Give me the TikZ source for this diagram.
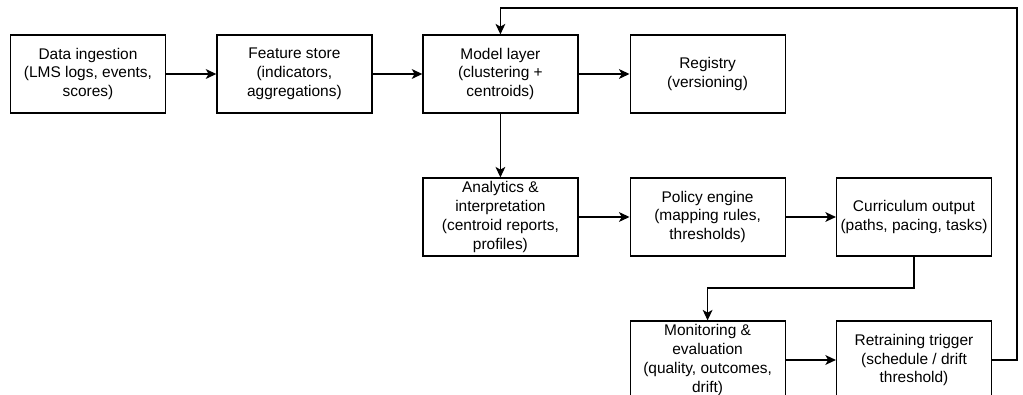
\documentclass[tikz,border=0pt]{standalone}
\usepackage{fontspec}
\setmainfont{Liberation Sans}
\usetikzlibrary{arrows.meta}
\begin{document}
\begin{tikzpicture}[box/.style={draw,line width=0.85pt,minimum width=3.875cm,minimum height=1.95cm,inner sep=0pt,align=center,font=\fontsize{11}{13.5}\selectfont},
arr/.style={-{Stealth[length=7.5pt,width=7pt,inset=2pt]},line width=0.85pt}]
\clip (0,0) rectangle (25.575,9.875);
\node[box] (ingest) at (2.2,8.025) {Data ingestion\\(LMS logs, events,\\scores)};
\node[box] (feat) at (7.36,8.025) {Feature store\\(indicators,\\aggregations)};
\node[box] (model) at (12.51,8.025) {Model layer\\(clustering +\\centroids)};
\node[box] (reg) at (17.69,8.025) {Registry\\(versioning)};
\node[box] (anal) at (12.51,4.45) {Analytics \&\\interpretation\\(centroid reports,\\profiles)};
\node[box] (policy) at (17.69,4.45) {Policy engine\\(mapping rules,\\thresholds)};
\node[box] (curr) at (22.85,4.45) {Curriculum output\\(paths, pacing, tasks)};
\node[box] (mon) at (17.69,0.875) {Monitoring \&\\evaluation\\(quality, outcomes,\\drift)};
\node[box] (retrain) at (22.85,0.875) {Retraining trigger\\(schedule / drift\\threshold)};
\coordinate (loop) at (25.425,9.675);
\coordinate (drop) at (0,2.675);
\draw[arr] (ingest) -- (feat);
\draw[arr] (feat) -- (model);
\draw[arr] (model) -- (reg);
\draw[arr] (model) -- (anal);
\draw[arr] (anal) -- (policy);
\draw[arr] (policy) -- (curr);
\draw[arr] (curr.south) -- (curr.south |- drop) -| (mon.north);
\draw[arr] (mon) -- (retrain);
\draw[arr] (retrain.east) -| (loop) -| (model.north);
\end{tikzpicture}
\end{document}
